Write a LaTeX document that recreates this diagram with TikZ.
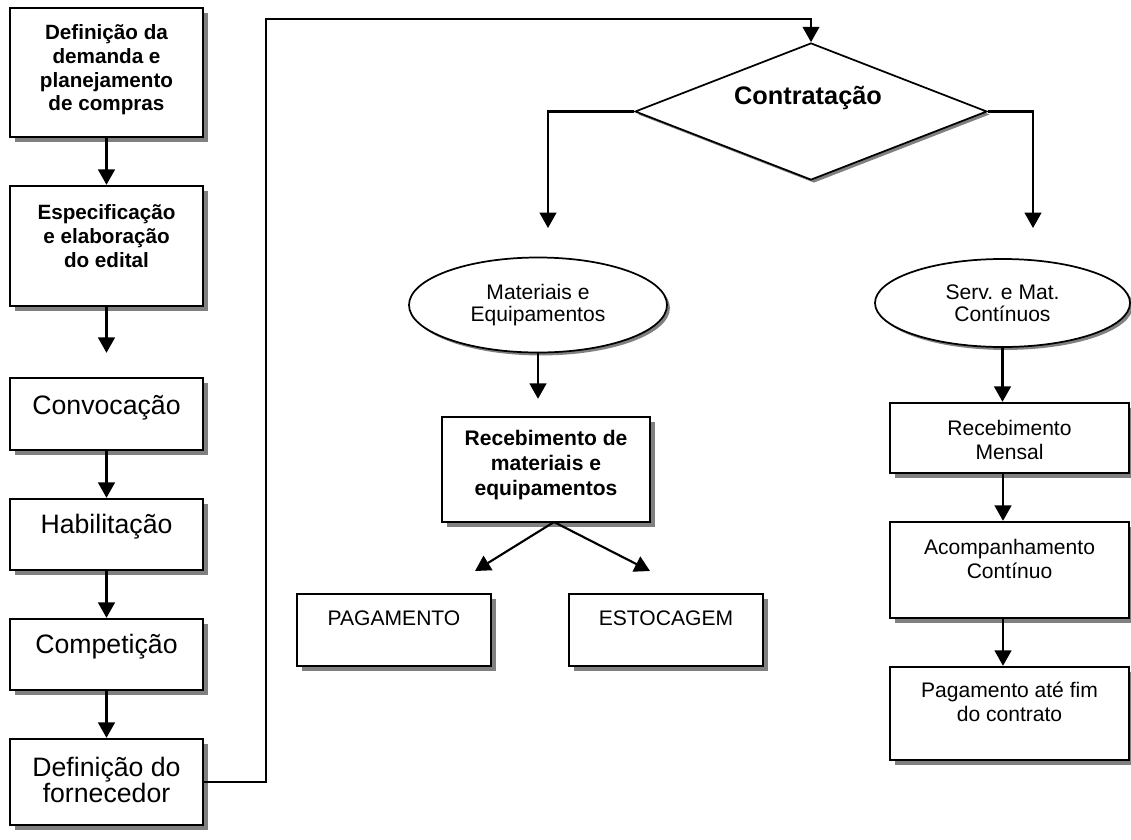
\documentclass[tikz,border=0pt]{standalone}
\usepackage{fontspec}
\setmainfont{Liberation Sans}
\usetikzlibrary{arrows.meta,shapes.geometric,shadows,calc}
\tikzset{
  shd/.style={drop shadow={shadow xshift=3.75pt,shadow yshift=-3.75pt,fill=black!50,opacity=1}},
  shdthin/.style={drop shadow={shadow xshift=2.2pt,shadow yshift=-2.2pt,fill=black!50,opacity=1}},
  boxn/.style={draw,line width=1.8pt,fill=white,inner sep=0pt,shd},
  ellin/.style={ellipse,draw,line width=1.3pt,fill=white,inner sep=0pt,shdthin,align=center,font=\fontsize{15.8}{16.5}\selectfont},
  diam/.style={diamond,draw,line width=1.3pt,fill=white,inner sep=0pt,shdthin},
  bigtxt/.style={align=center,font=\fontsize{20}{20}\selectfont},
  boldtxt/.style={align=center,font=\bfseries\fontsize{15.5}{17.8}\selectfont},
  smalltxt/.style={align=center,font=\fontsize{15.8}{18.5}\selectfont},
  arr/.style={line width=1.6pt,-{Triangle[width=12.5pt,length=11.5pt]}},
  ln/.style={line width=1.6pt}
}
\begin{document}
\begin{tikzpicture}[x=0.75pt,y=-0.75pt]
\useasboundingbox (0,0) rectangle (1131,839);
% left column
\node[boxn,minimum width=144.75pt,minimum height=96.75pt] (b1) at (106.5,72.5) {};
\node[boldtxt] (t1) at (106.5,70) {Definição da\\demanda e\\planejamento\\de compras};
\node[boxn,minimum width=144.75pt,minimum height=90pt] (b2) at (106.5,246) {};
\node[boldtxt] (t2) at (106.5,236) {Especificação\\e elaboração\\do edital};
\node[boxn,minimum width=144.75pt,minimum height=54pt] (b3) at (106.5,414) {};
\node[bigtxt] (t3) at (106.5,408) {Convocação};
\node[boxn,minimum width=144.75pt,minimum height=53.25pt] (b4) at (106.5,534.5) {};
\node[bigtxt] (t4) at (106.5,527) {Habilitação};
\node[boxn,minimum width=144.75pt,minimum height=53.25pt] (b5) at (106.5,654.5) {};
\node[bigtxt] (t5) at (106.5,647) {Competição};
\node[boxn,minimum width=144.75pt,minimum height=64.5pt] (b6) at (106.5,782) {};
\node[bigtxt] (t6) at (106.5,780) {Definição do\\fornecedor};
% diamond
\node[diam,minimum width=264pt,minimum height=102.75pt] (ctr) at (811,111.5) {};
\node[align=center,font=\bfseries\fontsize{19}{20}\selectfont] (tc) at (808,98) {Contratação};
% ellipses
\node[ellin,minimum width=193.5pt,minimum height=71.25pt] (e1) at (538,305) {Materiais e\\Equipamentos};
\node[ellin,minimum width=191.25pt,minimum height=66pt] (e2) at (1002.5,303) {Serv. e Mat.\\Contínuos};
% middle
\node[boxn,minimum width=156pt,minimum height=78.75pt] (m1) at (546,469.5) {};
\node[boldtxt,font=\bfseries\fontsize{15.8}{18.5}\selectfont] (tm1) at (546,465) {Recebimento de\\materiais e\\equipamentos};
\node[boxn,minimum width=145.5pt,minimum height=54pt] (pag) at (394,630) {};
\node[smalltxt] (tpag) at (394,618) {PAGAMENTO};
\node[boxn,minimum width=145.5pt,minimum height=54pt] (est) at (666,630) {};
\node[smalltxt] (test) at (666,618) {ESTOCAGEM};
% right
\node[boxn,minimum width=179.25pt,minimum height=52.5pt] (r1) at (1009.5,438) {};
\node[smalltxt] (tr1) at (1009.5,440) {Recebimento\\Mensal};
\node[boxn,minimum width=179.25pt,minimum height=72pt] (r2) at (1009.5,570) {};
\node[smalltxt] (tr2) at (1009.5,559) {Acompanhamento\\Contínuo};
\node[boxn,minimum width=179.25pt,minimum height=69.75pt] (r3) at (1009.5,713.5) {};
\node[smalltxt] (tr3) at (1009.5,702) {Pagamento até fim\\do contrato};
% coordinates
\coordinate (up) at (266,19);
\coordinate (lt) at (548,228);
\coordinate (rt) at (1033,228);
\coordinate (dl) at (475,571);
\coordinate (dr) at (650,571);
\coordinate (ds) at (554,522);
\coordinate (rx) at (1003,0);
% connectors
\draw[arr] (b1.south) -- (b2.north);
\draw[arr,shorten >=18pt] (b2.south) -- (b3.north);
\draw[arr] (b3.south) -- (b4.north);
\draw[arr] (b4.south) -- (b5.north);
\draw[arr] (b5.south) -- (b6.north);
\draw[arr] (b6.east) -| (up) -| (ctr.north);
\draw[arr] (ctr.west) -| (lt);
\draw[arr] (ctr.east) -| (rt);
\draw[arr,shorten >=12.75pt] (e1.south) -- (e1.south |- m1.north);
\draw[arr] (ds) -- (dl);
\draw[arr] (ds) -- (dr);
\draw[arr] (e2.south) -- (e2.south |- r1.north);
\draw[arr] (rx |- r1.south) -- (rx |- r2.north);
\draw[arr] (rx |- r2.south) -- (rx |- r3.north);
\end{tikzpicture}
\end{document}
